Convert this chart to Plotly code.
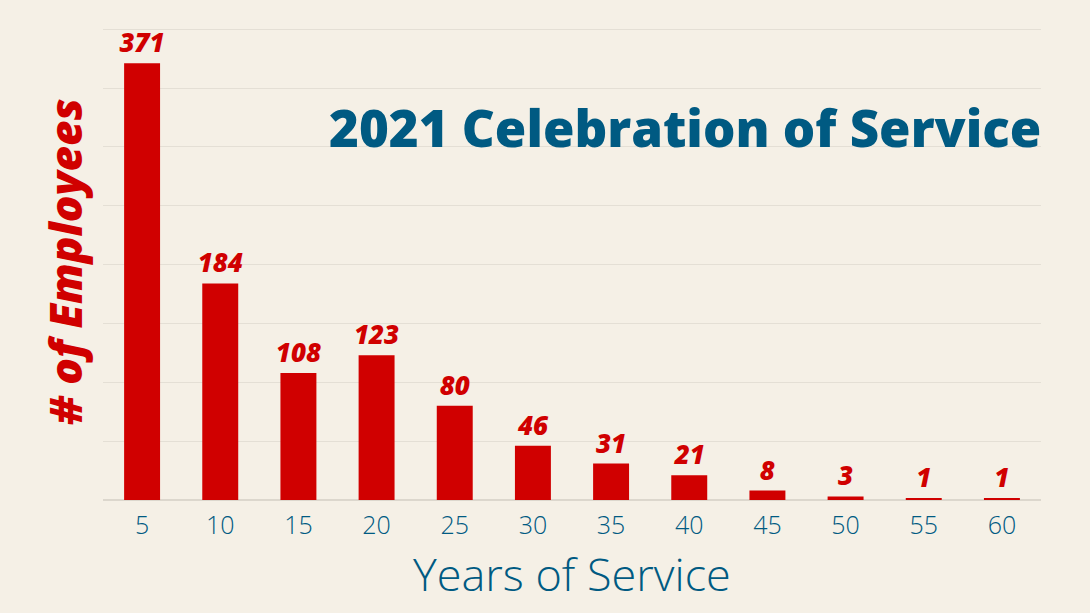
import plotly.graph_objects as go

years = ["5", "10", "15", "20", "25", "30", "35", "40", "45", "50", "55", "60"]
employees = [371, 184, 108, 123, 80, 46, 31, 21, 8, 3, 1, 1]
title_text = "2021 Celebration of Service"
x_title = "Years of Service"
y_title = "# of Employees"

BG = "#f5f0e6"
RED = "#d00000"
BLUE = "#005a82"
FONT = "Open Sans"

fig = go.Figure(
    go.Bar(
        x=years,
        y=employees,
        marker=dict(color=RED, line=dict(width=0)),
        text=employees,
        texttemplate="%{text}",
        textposition="outside",
        constraintext="none",
        cliponaxis=False,
        textfont=dict(family=FONT, size=26, color=RED, weight=800, style="italic"),
        hoverinfo="x+y",
    )
)

fig.update_layout(
    width=1090,
    height=613,
    paper_bgcolor=BG,
    plot_bgcolor=BG,
    margin=dict(l=103, r=49, t=28, b=113),
    bargap=0.54,
    showlegend=False,
    font=dict(family=FONT, color=BLUE),
    annotations=[
        dict(
            text=title_text,
            xref="paper", yref="paper",
            x=1.002, y=0.79,
            xanchor="right", yanchor="middle",
            showarrow=False,
            font=dict(family=FONT, size=51, color=BLUE, weight=800),
        ),
        dict(
            text=y_title,
            xref="paper", yref="paper",
            x=-0.0405, y=0.505,
            xanchor="center", yanchor="middle",
            textangle=-90,
            showarrow=False,
            font=dict(family=FONT, size=44, color=RED, weight=800, style="italic"),
        ),
        dict(
            text=x_title,
            xref="paper", yref="paper",
            x=0.5, y=-0.155,
            xanchor="center", yanchor="middle",
            showarrow=False,
            font=dict(family=FONT, size=45, color=BLUE, weight=300),
        ),
    ],
)

fig.update_xaxes(
    type="category",
    showgrid=False,
    showline=False,
    ticks="",
    ticklabelstandoff=8,
    tickfont=dict(family=FONT, size=25, color=BLUE, weight=300),
    automargin=False,
)

fig.update_yaxes(
    range=[0, 401],
    dtick=50,
    showgrid=True,
    gridcolor="#e4dfd5",
    gridwidth=1,
    zeroline=True,
    zerolinecolor="#dcd7cd",
    zerolinewidth=1.5,
    showticklabels=False,
    ticks="",
    automargin=False,
)

fig.write_html(
    "out.html",
    config={"displayModeBar": False},
    post_script="document.body.style.margin='0';document.body.style.background='%s';" % BG,
)
